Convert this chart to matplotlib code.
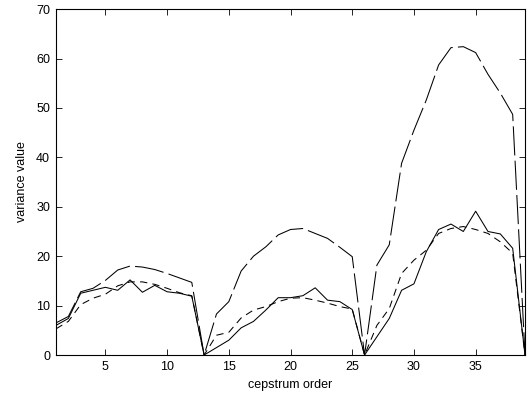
import numpy as np
import matplotlib
matplotlib.use('Agg')
import matplotlib.pyplot as plt

plt.rc('font', family='Liberation Sans')

order = np.arange(1, 40)

# solid line
var_solid = [6.0, 7.4, 12.5, 13.1, 13.7, 13.1, 15.2, 12.7, 14.1, 12.8, 12.5, 11.9, 0.0,
             1.5, 3.0, 5.5, 6.8, 9.1, 11.6, 11.6, 12.0, 13.6, 11.1, 10.8, 9.2, 0.0,
             3.7, 7.4, 13.1, 14.4, 20.9, 25.4, 26.5, 25.0, 29.1, 25.0, 24.5, 21.6, 0.0]
# short dashed line
var_short = [5.3, 6.8, 10.2, 11.5, 12.3, 14.0, 14.8, 14.8, 14.3, 13.5, 12.6, 12.0, 0.0,
             4.0, 4.6, 7.5, 9.1, 9.8, 10.8, 11.5, 11.6, 11.1, 10.5, 9.8, 9.3, 0.0,
             6.0, 9.4, 16.5, 19.2, 21.2, 24.6, 25.6, 26.0, 25.4, 24.6, 22.9, 20.6, 0.0]
# long dashed line
var_long = [6.5, 7.8, 12.8, 13.5, 15.1, 17.2, 18.0, 17.8, 17.3, 16.5, 15.6, 14.7, 0.0,
            8.3, 10.8, 17.0, 20.0, 21.9, 24.3, 25.4, 25.6, 24.6, 23.6, 21.8, 19.9, 0.0,
            18.2, 22.3, 38.8, 45.5, 51.6, 58.7, 62.2, 62.4, 61.2, 56.8, 53.0, 48.7, 0.0]

fig = plt.figure(figsize=(5.3, 3.96), dpi=100)
ax = fig.add_axes([0.1057, 0.1035, 0.8849, 0.8735])

lw = 0.75
ax.plot(order, var_long, color='black', lw=lw, dashes=(28, 5))
ax.plot(order, var_short, color='black', lw=lw, dashes=(7, 5))
ax.plot(order, var_solid, color='black', lw=lw)

ax.set_xlim(1, 39)
ax.set_ylim(0, 70)
ax.set_xticks([5, 10, 15, 20, 25, 30, 35])
ax.set_yticks(np.arange(0, 71, 10))
ax.tick_params(direction='in', top=True, right=True, length=4, width=0.6,
               labelsize=9, pad=4.3)
for s in ax.spines.values():
	s.set_linewidth(0.8)

ax.set_xlabel('cepstrum order', fontsize=9, labelpad=4)
ax.set_ylabel('variance value', fontsize=9, labelpad=6)

fig.savefig('out.png', dpi=100)
